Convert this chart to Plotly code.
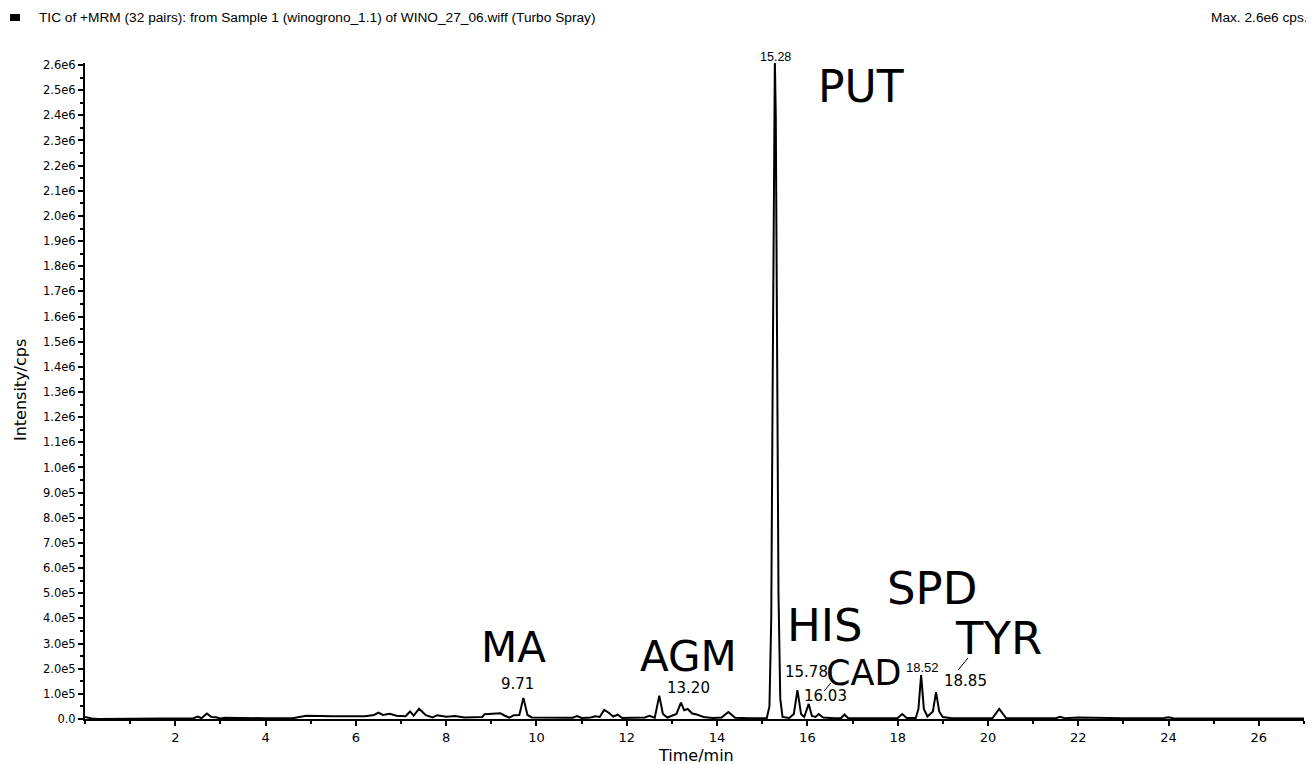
import plotly.graph_objects as go

# ---- data ----
time_min = [
    0.0, 0.05, 0.15, 0.3, 1.0, 2.0, 2.1, 2.4, 2.5, 2.58, 2.7, 2.8, 2.9, 3.0, 3.1, 3.5, 4.0,
    4.6, 4.7, 4.8, 4.9, 5.5, 6.0, 6.2, 6.4, 6.5, 6.6, 6.75, 6.9, 7.1, 7.2, 7.28, 7.4, 7.55,
    7.7, 7.8, 8.0, 8.2, 8.4, 8.6, 8.8, 8.85, 9.2, 9.3, 9.4, 9.5, 9.62, 9.71, 9.8, 9.9, 10.2,
    10.5, 10.8, 10.9, 11.0, 11.2, 11.3, 11.4, 11.5, 11.6, 11.7, 11.8, 11.9, 12.1, 12.4, 12.5,
    12.62, 12.72, 12.8, 12.9, 13.1, 13.2, 13.27, 13.35, 13.45, 13.55, 13.7, 13.9, 14.1, 14.25,
    14.4, 14.7, 15.1, 15.16, 15.2, 15.23, 15.26, 15.28, 15.30, 15.33, 15.36, 15.4, 15.45, 15.6,
    15.7, 15.78, 15.86, 15.93, 16.03, 16.1, 16.18, 16.25, 16.35, 16.6, 16.75, 16.82, 16.9, 17.1,
    17.5, 17.8, 18.0, 18.1, 18.2, 18.4, 18.46, 18.52, 18.58, 18.66, 18.78, 18.85, 18.92, 19.0,
    19.2, 19.6, 20.1, 20.25, 20.4, 20.8, 21.5, 21.6, 21.7, 22.0, 23.0, 23.9, 24.0, 24.1, 25.0,
    26.0, 26.5, 27.0,
]
intensity_cps = [
    8e3, 5e3, 2e3, 0, 0, 0, 3e3, 3e3, 1e4, 3e3, 2.2e4, 8e3, 7e3, 2e3, 5e3, 3e3, 3e3,
    3e3, 6e3, 8e3, 1.3e4, 1.1e4, 1.1e4, 1.1e4, 1.6e4, 2.5e4, 1.6e4, 2.1e4, 1.3e4, 1.1e4, 3e4, 1.3e4, 4.1e4, 1.5e4,
    6e3, 1.5e4, 9e3, 1.2e4, 6e3, 6e3, 8e3, 1.9e4, 2.3e4, 1.3e4, 5e3, 1.5e4, 1.6e4, 8.4e4, 1.6e4, 6e3, 5e3,
    4e3, 5e3, 1.2e4, 4e3, 6e3, 1.1e4, 8e3, 3.6e4, 2.5e4, 1e4, 1.7e4, 4e3, 5e3, 6e3, 1.3e4,
    5e3, 9.3e4, 2e4, 6e3, 2e4, 6.5e4, 3.5e4, 4e4, 2.2e4, 1.8e4, 8e3, 4e3, 6e3, 2.8e4,
    5e3, 3e3, 3e3, 5e4, 4e5, 1.3e6, 2.35e6, 2.62e6, 2.4e6, 1.4e6, 5e5, 8e4, 8e3, 4e3,
    2e4, 1.15e5, 2e4, 8e3, 6e4, 1.2e4, 8e3, 2e4, 6e3, 3e3, 4e3, 1.8e4, 4e3, 3e3,
    4e3, 6e3, 4e3, 2e4, 4e3, 4e3, 4e4, 1.75e5, 4e4, 1e4, 3e4, 1.07e5, 3e4, 8e3,
    3e3, 3e3, 4e3, 4e4, 4e3, 3e3, 3e3, 9e3, 3e3, 6e3, 3e3, 4e3, 7e3, 3e3, 3e3,
    3e3, 4e3, 2e3,
]

x_tick_vals = [2, 4, 6, 8, 10, 12, 14, 16, 18, 20, 22, 24, 26]
x_tick_text = ["2", "4", "6", "8", "10", "12", "14", "16", "18", "20", "22", "24", "26"]
y_tick_vals = [0, 1e5, 2e5, 3e5, 4e5, 5e5, 6e5, 7e5, 8e5, 9e5, 1.0e6, 1.1e6, 1.2e6, 1.3e6,
               1.4e6, 1.5e6, 1.6e6, 1.7e6, 1.8e6, 1.9e6, 2.0e6, 2.1e6, 2.2e6, 2.3e6, 2.4e6,
               2.5e6, 2.6e6]
y_tick_text = ["0.0", "1.0e5", "2.0e5", "3.0e5", "4.0e5", "5.0e5", "6.0e5", "7.0e5", "8.0e5",
               "9.0e5", "1.0e6", "1.1e6", "1.2e6", "1.3e6", "1.4e6", "1.5e6", "1.6e6", "1.7e6",
               "1.8e6", "1.9e6", "2.0e6", "2.1e6", "2.2e6", "2.3e6", "2.4e6", "2.5e6", "2.6e6"]

compound_names = ["PUT", "MA", "AGM", "HIS", "SPD", "TYR", "CAD"]
compound_x = [17.19, 9.50, 13.36, 16.39, 18.76, 20.24, 17.25]
compound_y = [2.513e6, 2.86e5, 2.47e5, 3.70e5, 5.17e5, 3.22e5, 1.83e5]
compound_size = [44, 42, 42, 45, 45, 45, 35]

rt_labels = ["15.28", "9.71", "13.20", "15.78", "16.03", "18.52", "18.85"]
rt_x = [15.30, 9.57, 13.36, 15.97, 16.41, 18.56, 19.51]
rt_y = [2.632e6, 1.39e5, 1.23e5, 1.87e5, 9.1e4, 2.03e5, 1.51e5]
rt_size = [12.5, 15, 15, 15, 15, 13, 15]
rt_font = ["Liberation Sans", "DejaVu Sans", "DejaVu Sans", "DejaVu Sans", "DejaVu Sans",
           "Liberation Sans", "DejaVu Sans"]

Y_MAX = 2.608e6
X_MAX = 27

fig = go.Figure()
fig.add_trace(go.Scatter(
    x=time_min, y=intensity_cps, mode="lines",
    line=dict(color="black", width=2), hoverinfo="skip", showlegend=False,
))

annotations = []
for name, x, y, s in zip(compound_names, compound_x, compound_y, compound_size):
    annotations.append(dict(x=x, y=y / Y_MAX, xref="x", yref="paper", text=name, showarrow=False,
                            xanchor="center", yanchor="middle",
                            font=dict(family="DejaVu Sans", size=s, color="black")))
for t, x, y, s, f in zip(rt_labels, rt_x, rt_y, rt_size, rt_font):
    annotations.append(dict(x=x, y=y / Y_MAX, xref="x", yref="paper", text=t, showarrow=False,
                            xanchor="center", yanchor="middle",
                            font=dict(family=f, size=s, color="black")))

# header texts and axis titles
annotations += [
    dict(x=-0.0394, y=1.0686, xref="paper", yref="paper", xanchor="left", yanchor="middle",
         text="TIC of +MRM (32 pairs): from Sample 1 (winogrono_1.1) of WINO_27_06.wiff (Turbo Spray)",
         showarrow=False, font=dict(family="Liberation Sans", size=13.7, color="black")),
    dict(x=1.0049, y=1.0686, xref="paper", yref="paper", xanchor="right", yanchor="middle",
         text="Max. 2.6e6 cps.", showarrow=False,
         font=dict(family="Liberation Sans", size=13.7, color="black")),
    dict(x=-0.0533, y=0.5015, xref="paper", yref="paper", xanchor="center", yanchor="middle",
         text="Intensity/cps", textangle=-90,
         showarrow=False, font=dict(family="DejaVu Sans", size=16, color="black")),
    dict(x=0.501, y=-0.0549, xref="paper", yref="paper", xanchor="center", yanchor="middle",
         text="Time/min",
         showarrow=False, font=dict(family="DejaVu Sans", size=16, color="black")),
]

shapes = [
    dict(type="rect", xref="paper", yref="paper", x0=-0.0615, x1=-0.0533, y0=1.064, y1=1.0747,
         fillcolor="black", line=dict(width=0)),
    dict(type="line", xref="x", yref="y", x0=16.37, x1=16.52, y0=1.11e5, y1=1.43e5,
         line=dict(color="black", width=1)),
    dict(type="line", xref="x", yref="y", x0=19.34, x1=19.56, y0=1.95e5, y1=2.43e5,
         line=dict(color="black", width=1)),
]

# page body has an 8px margin, so the figure is 8px smaller and margins are shifted
fig.update_layout(
    width=1306, height=756,
    margin=dict(l=77, r=10, t=55, b=45),
    paper_bgcolor="white", plot_bgcolor="white",
    annotations=annotations, shapes=shapes,
    showlegend=False,
    font=dict(family="DejaVu Sans", color="black"),
)
fig.update_xaxes(
    range=[0, X_MAX], showgrid=False, zeroline=False,
    showline=True, linecolor="black", linewidth=2,
    tickmode="array", tickvals=x_tick_vals, ticktext=x_tick_text,
    ticks="outside", ticklen=5, tickwidth=1.5, tickcolor="black",
    tickfont=dict(family="DejaVu Sans", size=13, color="black"),
    minor=dict(ticks="outside", dtick=1, tick0=0, ticklen=3, tickwidth=1.5, tickcolor="black"),
)
fig.update_yaxes(
    range=[0, Y_MAX], showgrid=False, zeroline=False,
    showline=True, linecolor="black", linewidth=2,
    tickmode="array", tickvals=y_tick_vals, ticktext=y_tick_text,
    ticks="outside", ticklen=5, tickwidth=1.5, tickcolor="black",
    tickfont=dict(family="DejaVu Sans", size=11.5, color="black"),
    minor=dict(ticks="outside", dtick=5e4, tick0=0, ticklen=3, tickwidth=1.5, tickcolor="black"),
)

fig.write_html("out.html")
